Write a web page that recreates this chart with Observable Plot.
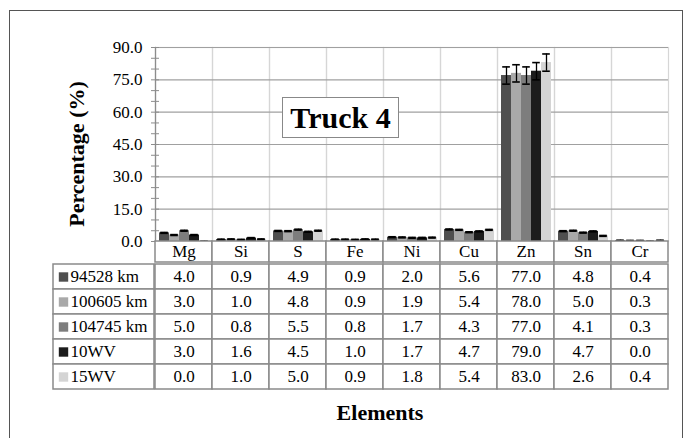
<!DOCTYPE html>
<html><head><meta charset="utf-8">
<script src="https://cdn.jsdelivr.net/npm/d3@7"></script>
<script src="https://cdn.jsdelivr.net/npm/@observablehq/plot@0.6"></script>
<style>
html,body{margin:0;padding:0;background:#fff;overflow:hidden;}
#wrap{position:relative;width:691px;height:438px;font-family:"Liberation Serif","Times New Roman",serif;color:#000;}
#wrap *{font-family:"Liberation Serif","Times New Roman",serif !important;}
.layer{position:absolute;}
.layer svg{overflow:visible;background:transparent;}
.lbl{position:absolute;white-space:nowrap;font-weight:bold;transform:translate(-50%,-50%);}
</style></head><body>
<div id="wrap">
  <div style="position:absolute;left:9px;top:10px;width:672px;height:460px;border:1px solid #555;"></div>
  <div class="layer" id="chart" style="left:0;top:0;"></div>
  <div class="layer" id="header" style="left:0;top:241px;"></div>
  <div class="layer" id="body" style="left:0;top:262px;"></div>
  <div class="layer" id="legend" style="left:53px;top:262px;"></div>
  <div style="position:absolute;left:282px;top:97px;width:115px;height:39px;border:1px solid #888;background:#fff;font-weight:bold;font-size:30px;line-height:39px;text-align:center;">Truck 4</div>
  <div class="lbl" style="left:77px;top:154px;font-size:22px;transform:translate(-50%,-50%) rotate(-90deg);">Percentage (%)</div>
  <div class="lbl" style="left:380px;top:413px;font-size:22px;">Elements</div>
</div>
<script>
const elements = ["Mg","Si","S","Fe","Ni","Cu","Zn","Sn","Cr"];
const series = ["94528 km","100605 km","104745 km","10WV","15WV"];
const v94528 = [4.0,0.9,4.9,0.9,2.0,5.6,77.0,4.8,0.4];
const v100605 = [3.0,1.0,4.8,0.9,1.9,5.4,78.0,5.0,0.3];
const v104745 = [5.0,0.8,5.5,0.8,1.7,4.3,77.0,4.1,0.3];
const v10WV = [3.0,1.6,4.5,1.0,1.7,4.7,79.0,4.7,0.0];
const v15WV = [0.0,1.0,5.0,0.9,1.8,5.4,83.0,2.6,0.4];
const errByElement = [0.2,0.2,0.2,0.2,0.2,0.2,4.0,0.2,0.2];
const colors = ["#4f4f4f","#a9a9a9","#7d7d7d","#1c1c1c","#d4d4d4"];
const yTicks = [0,15,30,45,60,75,90];
const yMinorTicks = [0,5,10,15,20,25,30,35,40,45,50,55,60,65,70,75,80,85,90];

const values = [v94528, v100605, v104745, v10WV, v15WV];
const rows = [];
series.forEach((s,i) => elements.forEach((el,j) => rows.push({series:s, element:el, value:values[i][j], err:errByElement[j]})));

const FONT = "Liberation Serif";
const baseStyle = {fontFamily: FONT, background: "transparent", overflow: "visible", color: "black"};

const chart = Plot.plot({
  width: 691, height: 241, marginLeft: 154, marginRight: 23, marginTop: 47, marginBottom: 0,
  style: baseStyle,
  fx: {domain: elements, padding: 0, axis: null},
  x: {domain: series, paddingInner: 0, paddingOuter: 0.35, axis: null},
  y: {domain: [0, 90], axis: null},
  color: {domain: series, range: colors},
  marks: [
    Plot.frame({stroke: "#d6d6d6", strokeWidth: 1.2}),
    Plot.gridY(yTicks.slice(1), {stroke: "#a0a0a0", strokeOpacity: 1, strokeWidth: 1.2}),
    Plot.barY(rows, {fx: "element", x: "series", y: "value", fill: "series"}),
    Plot.ruleX(rows, {fx: "element", x: "series", y1: d => Math.max(0, d.value - d.err), y2: d => d.value + d.err, stroke: "black", strokeWidth: 1.3}),
    Plot.tickY(rows, {fx: "element", x: "series", y: d => d.value + d.err, stroke: "black", strokeWidth: 1.6, insetLeft: 1.2, insetRight: 1.2}),
    Plot.tickY(rows.filter(d => d.value - d.err >= 0), {fx: "element", x: "series", y: d => d.value - d.err, stroke: "black", strokeWidth: 1.6, insetLeft: 1.2, insetRight: 1.2}),
    Plot.frame({anchor: "left", stroke: "#8c8c8c", strokeWidth: 1.3, facetAnchor: "left"}),
    Plot.axisY({ticks: yMinorTicks, tickSize: 8, dx: 4, tickFormat: () => "", label: null, stroke: "#8c8c8c"}),
    Plot.axisY({ticks: yTicks, tickSize: 0, tickPadding: 13, tickFormat: d3.format(".1f"), fontSize: 17, label: null})
  ]
});
document.getElementById("chart").appendChild(chart);

const header = Plot.plot({
  width: 691, height: 21, marginLeft: 154, marginRight: 23, marginTop: 0, marginBottom: 0,
  style: baseStyle,
  x: {domain: elements, padding: 0, axis: null},
  marks: [
    Plot.cell(elements, {x: d => d, fill: "white", stroke: "#8a8a8a", strokeWidth: 1.5}),
    Plot.text(elements, {x: d => d, text: d => d, fontSize: 17, fill: "black"})
  ]
});
document.getElementById("header").appendChild(header);

const body = Plot.plot({
  width: 691, height: 129, marginLeft: 154, marginRight: 23, marginTop: 0, marginBottom: 0,
  style: baseStyle,
  x: {domain: elements, padding: 0, axis: null},
  y: {domain: series, padding: 0, axis: null},
  marks: [
    Plot.cell(rows, {x: "element", y: "series", fill: "white", stroke: "#8a8a8a", strokeWidth: 1.5}),
    Plot.text(rows, {x: "element", y: "series", text: d => d.value.toFixed(1), fontSize: 17, fill: "black"})
  ]
});
document.getElementById("body").appendChild(body);

const legend = Plot.plot({
  width: 101, height: 129, marginLeft: 0, marginRight: 0, marginTop: 0, marginBottom: 0,
  style: baseStyle,
  y: {domain: series, padding: 0, axis: null},
  color: {domain: series, range: colors},
  marks: [
    Plot.cell(series, {y: d => d, fill: "white", stroke: "#8a8a8a", strokeWidth: 1.5}),
    Plot.dot(series, {y: d => d, frameAnchor: "left", dx: 10, symbol: "square", r: 5.3, fill: d => d}),
    Plot.text(series, {y: d => d, text: d => d, frameAnchor: "left", dx: 17, textAnchor: "start", fontSize: 17, fill: "black"})
  ]
});
document.getElementById("legend").appendChild(legend);
</script>
</body></html>
